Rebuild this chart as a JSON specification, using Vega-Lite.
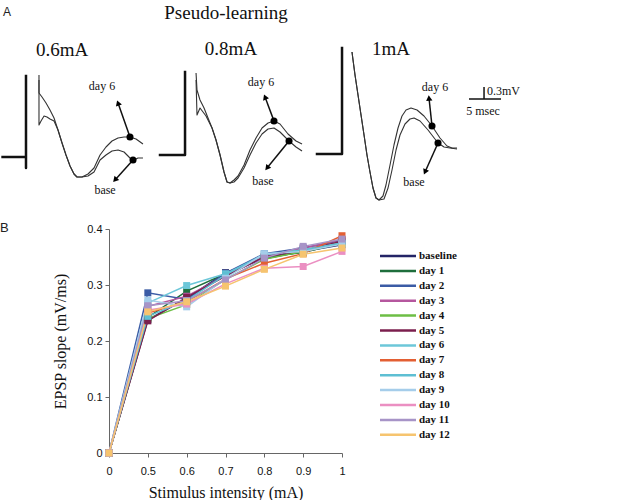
{
  "$schema": "https://vega.github.io/schema/vega-lite/v6.json",
  "background": "white",
  "padding": 0,
  "columns": 1,
  "align": "none",
  "spacing": 17,
  "resolve": {"legend": {"color": "independent"}, "scale": {"color": "independent"}},
  "config": {"view": {"stroke": null}, "font": "Liberation Serif"},
  "datasets": {
    "traces": [
      {"trace": "0.6mA day 6", "t": 6.09, "v": 2.05}, {"trace": "0.6mA day 6", "t": 6.09, "v": 1.6}, {"trace": "0.6mA day 6", "t": 6.56, "v": 1.5}, {"trace": "0.6mA day 6", "t": 7.19, "v": 1.35}, {"trace": "0.6mA day 6", "t": 7.81, "v": 1.175}, {"trace": "0.6mA day 6", "t": 8.44, "v": 0.975}, {"trace": "0.6mA day 6", "t": 9.06, "v": 0.675}, {"trace": "0.6mA day 6", "t": 9.69, "v": 0.35}, {"trace": "0.6mA day 6", "t": 10.31, "v": 0.05}, {"trace": "0.6mA day 6", "t": 10.94, "v": -0.225}, {"trace": "0.6mA day 6", "t": 11.56, "v": -0.425}, {"trace": "0.6mA day 6", "t": 12.03, "v": -0.5}, {"trace": "0.6mA day 6", "t": 12.81, "v": -0.5}, {"trace": "0.6mA day 6", "t": 13.75, "v": -0.425}, {"trace": "0.6mA day 6", "t": 14.69, "v": -0.275}, {"trace": "0.6mA day 6", "t": 15.63, "v": 0.05}, {"trace": "0.6mA day 6", "t": 16.56, "v": 0.25}, {"trace": "0.6mA day 6", "t": 17.5, "v": 0.4}, {"trace": "0.6mA day 6", "t": 18.44, "v": 0.475}, {"trace": "0.6mA day 6", "t": 19.38, "v": 0.5}, {"trace": "0.6mA day 6", "t": 20.31, "v": 0.5}, {"trace": "0.6mA day 6", "t": 21.25, "v": 0.45}, {"trace": "0.6mA day 6", "t": 22.34, "v": 0.325},
      {"trace": "0.6mA base", "t": 6.09, "v": 1.925}, {"trace": "0.6mA base", "t": 6.09, "v": 0.8}, {"trace": "0.6mA base", "t": 6.41, "v": 0.9}, {"trace": "0.6mA base", "t": 6.88, "v": 1.025}, {"trace": "0.6mA base", "t": 7.34, "v": 1.0}, {"trace": "0.6mA base", "t": 7.81, "v": 0.95}, {"trace": "0.6mA base", "t": 8.44, "v": 0.9}, {"trace": "0.6mA base", "t": 9.06, "v": 0.675}, {"trace": "0.6mA base", "t": 9.69, "v": 0.35}, {"trace": "0.6mA base", "t": 10.31, "v": 0.05}, {"trace": "0.6mA base", "t": 10.94, "v": -0.225}, {"trace": "0.6mA base", "t": 11.56, "v": -0.425}, {"trace": "0.6mA base", "t": 12.03, "v": -0.5}, {"trace": "0.6mA base", "t": 12.81, "v": -0.5}, {"trace": "0.6mA base", "t": 13.75, "v": -0.475}, {"trace": "0.6mA base", "t": 14.69, "v": -0.375}, {"trace": "0.6mA base", "t": 15.63, "v": -0.075}, {"trace": "0.6mA base", "t": 16.56, "v": 0.05}, {"trace": "0.6mA base", "t": 17.5, "v": 0.15}, {"trace": "0.6mA base", "t": 18.44, "v": 0.175}, {"trace": "0.6mA base", "t": 19.38, "v": 0.125}, {"trace": "0.6mA base", "t": 20.31, "v": -0.025}, {"trace": "0.6mA base", "t": 20.94, "v": -0.075}, {"trace": "0.6mA base", "t": 21.56, "v": -0.025}, {"trace": "0.6mA base", "t": 22.34, "v": -0.025},
      {"trace": "0.8mA day 6", "t": 30.63, "v": 2.1}, {"trace": "0.8mA day 6", "t": 30.78, "v": 1.675}, {"trace": "0.8mA day 6", "t": 31.25, "v": 1.425}, {"trace": "0.8mA day 6", "t": 31.88, "v": 1.225}, {"trace": "0.8mA day 6", "t": 32.5, "v": 0.975}, {"trace": "0.8mA day 6", "t": 33.13, "v": 0.725}, {"trace": "0.8mA day 6", "t": 33.75, "v": 0.425}, {"trace": "0.8mA day 6", "t": 34.38, "v": 0.05}, {"trace": "0.8mA day 6", "t": 35.0, "v": -0.375}, {"trace": "0.8mA day 6", "t": 35.47, "v": -0.625}, {"trace": "0.8mA day 6", "t": 35.94, "v": -0.65}, {"trace": "0.8mA day 6", "t": 36.56, "v": -0.575}, {"trace": "0.8mA day 6", "t": 37.19, "v": -0.475}, {"trace": "0.8mA day 6", "t": 38.13, "v": -0.2}, {"trace": "0.8mA day 6", "t": 39.06, "v": 0.175}, {"trace": "0.8mA day 6", "t": 40.0, "v": 0.475}, {"trace": "0.8mA day 6", "t": 40.94, "v": 0.725}, {"trace": "0.8mA day 6", "t": 41.88, "v": 0.85}, {"trace": "0.8mA day 6", "t": 42.81, "v": 0.9}, {"trace": "0.8mA day 6", "t": 43.75, "v": 0.825}, {"trace": "0.8mA day 6", "t": 45.0, "v": 0.575}, {"trace": "0.8mA day 6", "t": 46.25, "v": 0.4}, {"trace": "0.8mA day 6", "t": 47.19, "v": 0.325},
      {"trace": "0.8mA base", "t": 30.63, "v": 1.925}, {"trace": "0.8mA base", "t": 30.78, "v": 1.05}, {"trace": "0.8mA base", "t": 31.25, "v": 1.225}, {"trace": "0.8mA base", "t": 31.72, "v": 1.125}, {"trace": "0.8mA base", "t": 32.19, "v": 1.025}, {"trace": "0.8mA base", "t": 32.5, "v": 0.925}, {"trace": "0.8mA base", "t": 33.13, "v": 0.725}, {"trace": "0.8mA base", "t": 33.75, "v": 0.425}, {"trace": "0.8mA base", "t": 34.38, "v": 0.05}, {"trace": "0.8mA base", "t": 35.0, "v": -0.375}, {"trace": "0.8mA base", "t": 35.47, "v": -0.625}, {"trace": "0.8mA base", "t": 35.94, "v": -0.65}, {"trace": "0.8mA base", "t": 36.56, "v": -0.625}, {"trace": "0.8mA base", "t": 37.19, "v": -0.525}, {"trace": "0.8mA base", "t": 38.13, "v": -0.275}, {"trace": "0.8mA base", "t": 39.06, "v": 0.05}, {"trace": "0.8mA base", "t": 40.0, "v": 0.35}, {"trace": "0.8mA base", "t": 40.94, "v": 0.575}, {"trace": "0.8mA base", "t": 41.88, "v": 0.7}, {"trace": "0.8mA base", "t": 42.81, "v": 0.725}, {"trace": "0.8mA base", "t": 43.75, "v": 0.625}, {"trace": "0.8mA base", "t": 45.16, "v": 0.4}, {"trace": "0.8mA base", "t": 46.25, "v": 0.25}, {"trace": "0.8mA base", "t": 47.19, "v": 0.15},
      {"trace": "1mA day 6", "t": 55.0, "v": 2.625}, {"trace": "1mA day 6", "t": 55.16, "v": 2.425}, {"trace": "1mA day 6", "t": 55.47, "v": 2.05}, {"trace": "1mA day 6", "t": 55.94, "v": 1.55}, {"trace": "1mA day 6", "t": 56.41, "v": 1.05}, {"trace": "1mA day 6", "t": 56.88, "v": 0.55}, {"trace": "1mA day 6", "t": 57.34, "v": 0.05}, {"trace": "1mA day 6", "t": 57.81, "v": -0.375}, {"trace": "1mA day 6", "t": 58.28, "v": -0.775}, {"trace": "1mA day 6", "t": 58.75, "v": -1.025}, {"trace": "1mA day 6", "t": 59.22, "v": -1.075}, {"trace": "1mA day 6", "t": 59.84, "v": -0.975}, {"trace": "1mA day 6", "t": 60.31, "v": -0.7}, {"trace": "1mA day 6", "t": 60.94, "v": -0.2}, {"trace": "1mA day 6", "t": 61.56, "v": 0.3}, {"trace": "1mA day 6", "t": 62.19, "v": 0.725}, {"trace": "1mA day 6", "t": 62.81, "v": 1.025}, {"trace": "1mA day 6", "t": 63.44, "v": 1.175}, {"trace": "1mA day 6", "t": 64.22, "v": 1.225}, {"trace": "1mA day 6", "t": 65.16, "v": 1.175}, {"trace": "1mA day 6", "t": 66.25, "v": 1.025}, {"trace": "1mA day 6", "t": 67.5, "v": 0.775}, {"trace": "1mA day 6", "t": 68.75, "v": 0.475}, {"trace": "1mA day 6", "t": 69.84, "v": 0.275}, {"trace": "1mA day 6", "t": 70.63, "v": 0.225}, {"trace": "1mA day 6", "t": 71.41, "v": 0.225},
      {"trace": "1mA base", "t": 55.0, "v": 2.625}, {"trace": "1mA base", "t": 55.16, "v": 2.425}, {"trace": "1mA base", "t": 55.47, "v": 2.05}, {"trace": "1mA base", "t": 55.94, "v": 1.55}, {"trace": "1mA base", "t": 56.41, "v": 1.05}, {"trace": "1mA base", "t": 56.88, "v": 0.55}, {"trace": "1mA base", "t": 57.34, "v": 0.05}, {"trace": "1mA base", "t": 57.81, "v": -0.375}, {"trace": "1mA base", "t": 58.28, "v": -0.775}, {"trace": "1mA base", "t": 58.75, "v": -1.025}, {"trace": "1mA base", "t": 59.22, "v": -1.075}, {"trace": "1mA base", "t": 60.0, "v": -1.05}, {"trace": "1mA base", "t": 60.63, "v": -0.775}, {"trace": "1mA base", "t": 61.25, "v": -0.325}, {"trace": "1mA base", "t": 61.88, "v": 0.175}, {"trace": "1mA base", "t": 62.5, "v": 0.55}, {"trace": "1mA base", "t": 63.28, "v": 0.825}, {"trace": "1mA base", "t": 64.06, "v": 0.95}, {"trace": "1mA base", "t": 64.69, "v": 0.975}, {"trace": "1mA base", "t": 65.63, "v": 0.9}, {"trace": "1mA base", "t": 66.88, "v": 0.675}, {"trace": "1mA base", "t": 68.44, "v": 0.35}, {"trace": "1mA base", "t": 69.38, "v": 0.25}, {"trace": "1mA base", "t": 70.31, "v": 0.225}, {"trace": "1mA base", "t": 71.41, "v": 0.2}
    ],
    "stim": [
      {"part": "0.6mA artifact", "t": 0.4, "v": 0}, {"part": "0.6mA artifact", "t": 4.06, "v": 0}, {"part": "0.6mA artifact", "t": 4.06, "v": -0.275}, {"part": "0.6mA artifact", "t": 4.06, "v": 2.025},
      {"part": "0.8mA artifact", "t": 25, "v": 0.05}, {"part": "0.8mA artifact", "t": 28.91, "v": 0.05}, {"part": "0.8mA artifact", "t": 28.91, "v": 2.125},
      {"part": "1mA artifact", "t": 49.53, "v": 0.075}, {"part": "1mA artifact", "t": 53.44, "v": 0.075}, {"part": "1mA artifact", "t": 53.44, "v": 2.725}
    ],
    "scalebar": [
      {"part": "5 msec", "t": 73.28, "v": 1.45}, {"part": "5 msec", "t": 78.28, "v": 1.45},
      {"part": "0.3mV", "t": 75.63, "v": 1.45}, {"part": "0.3mV", "t": 75.63, "v": 1.75}
    ],
    "arrows": [
      {"trace": "0.6mA day 6", "t": 20.31, "v": 0.5, "t2": 18.44, "v2": 1.35, "heading": 341},
      {"trace": "0.6mA base", "t": 20.78, "v": -0.075, "t2": 17.97, "v2": -0.575, "heading": 222},
      {"trace": "0.8mA day 6", "t": 42.81, "v": 0.9, "t2": 41.41, "v2": 1.5, "heading": 338},
      {"trace": "0.8mA base", "t": 45.16, "v": 0.4, "t2": 41.72, "v2": -0.275, "heading": 219},
      {"trace": "1mA day 6", "t": 67.5, "v": 0.775, "t2": 67.03, "v2": 1.475, "heading": 354},
      {"trace": "1mA base", "t": 68.44, "v": 0.35, "t2": 66.41, "v2": -0.375, "heading": 204}
    ],
    "labels": [
      {"text": "A", "role": "panel", "t": 0.47, "v": 3.625},
      {"text": "Pseudo-learning", "role": "title", "t": 35.31, "v": 3.6},
      {"text": "0.6mA", "role": "intensity", "t": 9.69, "v": 2.675},
      {"text": "0.8mA", "role": "intensity", "t": 36.09, "v": 2.7},
      {"text": "1mA", "role": "intensity", "t": 61.09, "v": 2.7},
      {"text": "day 6", "role": "trace", "t": 15.94, "v": 1.775},
      {"text": "base", "role": "trace", "t": 16.41, "v": -0.825},
      {"text": "day 6", "role": "trace", "t": 40.78, "v": 1.875},
      {"text": "base", "role": "trace", "t": 41.09, "v": -0.6},
      {"text": "day 6", "role": "trace", "t": 67.97, "v": 1.75},
      {"text": "base", "role": "trace", "t": 64.69, "v": -0.625},
      {"text": "5 msec", "role": "trace", "t": 75.47, "v": 1.15},
      {"text": "0.3mV", "role": "scale", "t": 76.09, "v": 1.65}
    ],
    "slopes": [
      {"series": "baseline", "intensity": 0, "slope": 0}, {"series": "baseline", "intensity": 0.5, "slope": 0.238}, {"series": "baseline", "intensity": 0.6, "slope": 0.276}, {"series": "baseline", "intensity": 0.7, "slope": 0.322}, {"series": "baseline", "intensity": 0.8, "slope": 0.347}, {"series": "baseline", "intensity": 0.9, "slope": 0.36}, {"series": "baseline", "intensity": 1, "slope": 0.372},
      {"series": "day 1", "intensity": 0, "slope": 0}, {"series": "day 1", "intensity": 0.5, "slope": 0.242}, {"series": "day 1", "intensity": 0.6, "slope": 0.289}, {"series": "day 1", "intensity": 0.7, "slope": 0.32}, {"series": "day 1", "intensity": 0.8, "slope": 0.35}, {"series": "day 1", "intensity": 0.9, "slope": 0.358}, {"series": "day 1", "intensity": 1, "slope": 0.375},
      {"series": "day 2", "intensity": 0, "slope": 0}, {"series": "day 2", "intensity": 0.5, "slope": 0.286}, {"series": "day 2", "intensity": 0.6, "slope": 0.274}, {"series": "day 2", "intensity": 0.7, "slope": 0.321}, {"series": "day 2", "intensity": 0.8, "slope": 0.356}, {"series": "day 2", "intensity": 0.9, "slope": 0.366}, {"series": "day 2", "intensity": 1, "slope": 0.38},
      {"series": "day 3", "intensity": 0, "slope": 0}, {"series": "day 3", "intensity": 0.5, "slope": 0.262}, {"series": "day 3", "intensity": 0.6, "slope": 0.28}, {"series": "day 3", "intensity": 0.7, "slope": 0.316}, {"series": "day 3", "intensity": 0.8, "slope": 0.351}, {"series": "day 3", "intensity": 0.9, "slope": 0.366}, {"series": "day 3", "intensity": 1, "slope": 0.381},
      {"series": "day 4", "intensity": 0, "slope": 0}, {"series": "day 4", "intensity": 0.5, "slope": 0.24}, {"series": "day 4", "intensity": 0.6, "slope": 0.265}, {"series": "day 4", "intensity": 0.7, "slope": 0.31}, {"series": "day 4", "intensity": 0.8, "slope": 0.346}, {"series": "day 4", "intensity": 0.9, "slope": 0.36}, {"series": "day 4", "intensity": 1, "slope": 0.376},
      {"series": "day 5", "intensity": 0, "slope": 0}, {"series": "day 5", "intensity": 0.5, "slope": 0.236}, {"series": "day 5", "intensity": 0.6, "slope": 0.278}, {"series": "day 5", "intensity": 0.7, "slope": 0.316}, {"series": "day 5", "intensity": 0.8, "slope": 0.35}, {"series": "day 5", "intensity": 0.9, "slope": 0.362}, {"series": "day 5", "intensity": 1, "slope": 0.378},
      {"series": "day 6", "intensity": 0, "slope": 0}, {"series": "day 6", "intensity": 0.5, "slope": 0.268}, {"series": "day 6", "intensity": 0.6, "slope": 0.299}, {"series": "day 6", "intensity": 0.7, "slope": 0.32}, {"series": "day 6", "intensity": 0.8, "slope": 0.354}, {"series": "day 6", "intensity": 0.9, "slope": 0.363}, {"series": "day 6", "intensity": 1, "slope": 0.375},
      {"series": "day 7", "intensity": 0, "slope": 0}, {"series": "day 7", "intensity": 0.5, "slope": 0.25}, {"series": "day 7", "intensity": 0.6, "slope": 0.27}, {"series": "day 7", "intensity": 0.7, "slope": 0.311}, {"series": "day 7", "intensity": 0.8, "slope": 0.339}, {"series": "day 7", "intensity": 0.9, "slope": 0.356}, {"series": "day 7", "intensity": 1, "slope": 0.388},
      {"series": "day 8", "intensity": 0, "slope": 0}, {"series": "day 8", "intensity": 0.5, "slope": 0.244}, {"series": "day 8", "intensity": 0.6, "slope": 0.272}, {"series": "day 8", "intensity": 0.7, "slope": 0.318}, {"series": "day 8", "intensity": 0.8, "slope": 0.355}, {"series": "day 8", "intensity": 0.9, "slope": 0.362}, {"series": "day 8", "intensity": 1, "slope": 0.374},
      {"series": "day 9", "intensity": 0, "slope": 0}, {"series": "day 9", "intensity": 0.5, "slope": 0.273}, {"series": "day 9", "intensity": 0.6, "slope": 0.261}, {"series": "day 9", "intensity": 0.7, "slope": 0.312}, {"series": "day 9", "intensity": 0.8, "slope": 0.356}, {"series": "day 9", "intensity": 0.9, "slope": 0.36}, {"series": "day 9", "intensity": 1, "slope": 0.373},
      {"series": "day 10", "intensity": 0, "slope": 0}, {"series": "day 10", "intensity": 0.5, "slope": 0.255}, {"series": "day 10", "intensity": 0.6, "slope": 0.266}, {"series": "day 10", "intensity": 0.7, "slope": 0.302}, {"series": "day 10", "intensity": 0.8, "slope": 0.33}, {"series": "day 10", "intensity": 0.9, "slope": 0.333}, {"series": "day 10", "intensity": 1, "slope": 0.36},
      {"series": "day 11", "intensity": 0, "slope": 0}, {"series": "day 11", "intensity": 0.5, "slope": 0.263}, {"series": "day 11", "intensity": 0.6, "slope": 0.272}, {"series": "day 11", "intensity": 0.7, "slope": 0.309}, {"series": "day 11", "intensity": 0.8, "slope": 0.348}, {"series": "day 11", "intensity": 0.9, "slope": 0.369}, {"series": "day 11", "intensity": 1, "slope": 0.382},
      {"series": "day 12", "intensity": 0, "slope": 0}, {"series": "day 12", "intensity": 0.5, "slope": 0.252}, {"series": "day 12", "intensity": 0.6, "slope": 0.27}, {"series": "day 12", "intensity": 0.7, "slope": 0.298}, {"series": "day 12", "intensity": 0.8, "slope": 0.328}, {"series": "day 12", "intensity": 0.9, "slope": 0.355}, {"series": "day 12", "intensity": 1, "slope": 0.366}
    ]
  },
  "concat": [
    {
      "width": 531,
      "height": 205,
      "encoding": {
        "x": {"field": "t", "type": "quantitative", "scale": {"domain": [17.03, 100], "nice": false, "zero": false}, "axis": null},
        "y": {"field": "v", "type": "quantitative", "scale": {"domain": [-1.2, 3.925], "nice": false, "zero": false}, "axis": null}
      },
      "layer": [
        {"data": {"name": "stim"}, "mark": {"type": "line", "color": "#111", "strokeWidth": 2.5, "strokeCap": "square", "strokeJoin": "round"}, "encoding": {"detail": {"field": "part"}, "order": {"value": null}}},
        {"data": {"name": "scalebar"}, "mark": {"type": "line", "color": "#111", "strokeWidth": 1.5, "strokeJoin": "round"}, "encoding": {"detail": {"field": "part"}, "order": {"value": null}}},
        {"data": {"name": "traces"}, "mark": {"type": "line", "color": "#333", "strokeWidth": 1.1, "strokeJoin": "round"}, "encoding": {"detail": {"field": "trace"}, "order": {"value": null}}},
        {"data": {"name": "arrows"}, "mark": {"type": "rule", "color": "#111", "strokeWidth": 1.5}, "encoding": {"x2": {"field": "t2"}, "y2": {"field": "v2"}}},
        {"data": {"name": "arrows"}, "mark": {"type": "point", "filled": true, "color": "#000", "opacity": 1, "size": 50, "shape": "circle"}},
        {"data": {"name": "arrows"}, "mark": {"type": "point", "filled": true, "color": "#000", "opacity": 1, "size": 40, "shape": "triangle-up"}, "encoding": {"x": {"field": "t2", "type": "quantitative"}, "y": {"field": "v2", "type": "quantitative"}, "angle": {"field": "heading", "type": "quantitative", "scale": null}}},
        {"data": {"name": "labels"}, "transform": [{"filter": "datum.role === 'panel'"}], "mark": {"type": "text", "align": "left", "baseline": "middle", "font": "Liberation Sans", "fontSize": 12, "color": "#222"}, "encoding": {"text": {"field": "text"}}},
        {"data": {"name": "labels"}, "transform": [{"filter": "datum.role === 'title'"}], "mark": {"type": "text", "align": "center", "baseline": "middle", "font": "Liberation Serif", "fontSize": 19, "color": "#111"}, "encoding": {"text": {"field": "text"}}},
        {"data": {"name": "labels"}, "transform": [{"filter": "datum.role === 'intensity'"}], "mark": {"type": "text", "align": "center", "baseline": "middle", "font": "Liberation Serif", "fontSize": 19, "color": "#111"}, "encoding": {"text": {"field": "text"}}},
        {"data": {"name": "labels"}, "transform": [{"filter": "datum.role === 'trace'"}], "mark": {"type": "text", "align": "center", "baseline": "middle", "font": "Liberation Serif", "fontSize": 12, "color": "#111"}, "encoding": {"text": {"field": "text"}}},
        {"data": {"name": "labels"}, "transform": [{"filter": "datum.role === 'scale'"}], "mark": {"type": "text", "align": "left", "baseline": "middle", "font": "Liberation Serif", "fontSize": 12, "color": "#111"}, "encoding": {"text": {"field": "text"}}}
      ]
    },
    {
      "width": 233,
      "height": 224,
      "title": {"text": "B", "anchor": "start", "frame": "group", "font": "Liberation Sans", "fontSize": 13, "fontWeight": "normal", "color": "#222", "dx": -109, "offset": -12, "baseline": "top"},
      "data": {"name": "slopes"},
      "mark": {"type": "line", "strokeWidth": 1.5, "point": {"filled": true, "shape": "square", "size": 49, "opacity": 1}},
      "encoding": {
        "x": {"field": "intensity", "type": "ordinal", "scale": {"type": "point", "padding": 0},
              "axis": {"title": "Stimulus intensity (mA)", "labelAngle": 0, "grid": false, "domainColor": "#666", "tickColor": "#666", "tickSize": 4, "labelFont": "Liberation Sans", "labelFontSize": 11, "labelColor": "#111", "labelPadding": 8, "titleFont": "Liberation Serif", "titleFontSize": 16, "titleFontWeight": "normal", "titleColor": "#111", "titlePadding": 8}},
        "y": {"field": "slope", "type": "quantitative", "scale": {"domain": [0, 0.4], "nice": false},
              "axis": {"title": "EPSP slope (mV/ms)", "values": [0, 0.1, 0.2, 0.3, 0.4], "format": "~g", "grid": false, "domainColor": "#666", "tickColor": "#666", "tickSize": 4, "labelFont": "Liberation Sans", "labelFontSize": 11, "labelColor": "#111", "labelPadding": 3, "titleFont": "Liberation Serif", "titleFontSize": 16, "titleFontWeight": "normal", "titleColor": "#111", "titlePadding": 18}},
        "color": {"field": "series", "type": "nominal",
                  "scale": {"domain": ["baseline", "day 1", "day 2", "day 3", "day 4", "day 5", "day 6", "day 7", "day 8", "day 9", "day 10", "day 11", "day 12"],
                            "range": ["#232466", "#1E6E3C", "#3B5BA5", "#B5579E", "#6DBE45", "#7B1F4E", "#6CC7D9", "#E35F33", "#5EBFD3", "#A5CDEA", "#EB8FC2", "#A794C7", "#F6C46F"]},
                  "legend": {"title": null, "orient": "none", "legendX": 283, "legendY": 21, "symbolType": "M -4 0 L 4 0", "symbolSize": 81, "symbolStrokeWidth": 2.5, "labelOffset": 15, "rowPadding": 3.9, "labelFont": "Liberation Serif", "labelFontSize": 11, "labelFontWeight": "bold", "labelColor": "#111"}}
      }
    }
  ]
}
